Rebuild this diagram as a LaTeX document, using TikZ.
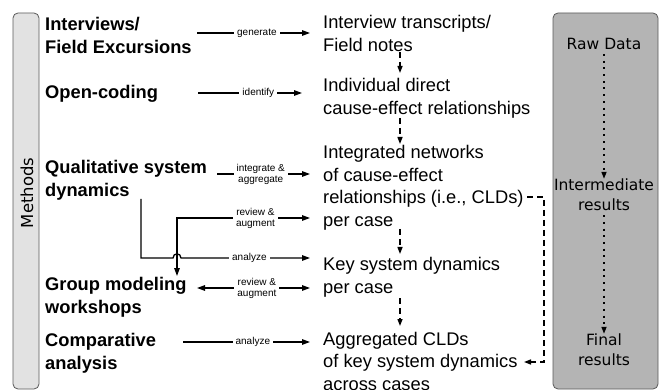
\documentclass[tikz,border=0pt]{standalone}
\usepackage{fontspec}
\setmainfont{Liberation Sans}
\newfontfamily\boxfont{DejaVu Sans}
\usetikzlibrary{arrows.meta,calc}

\definecolor{methodfill}{HTML}{E2E2E2}
\definecolor{stagefill}{HTML}{B4B4B4}
\definecolor{boxline}{HTML}{5A5A5A}

\begin{document}
\begin{tikzpicture}[x=1pt,y=-1pt,
  % multi-line nodes are placed by the baseline of their last line
  method/.style={anchor=base west, align=left, inner sep=0pt,
    font=\fontsize{18.3}{22.7}\selectfont\bfseries},
  result/.style={anchor=base west, align=left, inner sep=0pt,
    font=\fontsize{18.3}{22.7}\selectfont},
  lbl/.style={fill=white, inner xsep=3pt, inner ysep=1pt, align=center,
    font=\fontsize{10}{11}\selectfont},
  tip/.tip={Triangle[length=8pt,width=5.5pt]},
  smalltip/.tip={Triangle[length=7pt,width=5pt]},
  arr/.style={line width=1.3pt, -tip},
  biarr/.style={line width=1.3pt, tip-tip},
  flow/.style={line width=1.3pt, dash pattern=on 6pt off 4pt, -smalltip},
  dots/.style={line width=1.5pt, dash pattern=on 2pt off 4.7pt, -smalltip},
  panel/.style={draw=boxline, line width=0.8pt, rounded corners=5pt},
  stage/.style={align=center, inner sep=0pt,
    font=\boxfont\fontsize{15.5}{20}\selectfont}
]
\useasboundingbox (0,0) rectangle (664,390);

% side panels
\draw[panel, fill=methodfill] (13,13) rectangle (39,389);
\node[rotate=90, font=\boxfont\fontsize{16.5}{20}\selectfont] (meth) at (27,193) {Methods};

\draw[panel, fill=stagefill] (553,13) rectangle (658,389);
\node[stage] (raw) at (604,44) {Raw Data};
\node[stage] (inter) at (604,195) {Intermediate\\results};
\node[stage] (final) at (604,350) {Final\\results};
\draw[dots] (raw.south) ++(0,4) coordinate (d1s) (d1s) -- (inter.north);
\draw[dots] (inter.south) ++(0,4) coordinate (d2s) (d2s) -- (final.north);

% methods
\node[method] (iv)  at (45,53.5)  {Interviews/\\Field Excursions};
\node[method] (oc)  at (45,98.5)  {Open-coding};
\node[method] (qsd) at (45,196.5) {Qualitative system\\dynamics};
\node[method] (gmw) at (45,313.5) {Group modeling\\workshops};
\node[method] (ca)  at (45,369.5) {Comparative\\analysis};

% products
\node[result] (tr)  at (323,51.5)  {Interview transcripts/\\Field notes};
\node[result] (ind) at (323,114.5) {Individual direct\\cause-effect relationships};
\node[result] (net) at (323,226.5) {Integrated networks\\of cause-effect\\relationships (i.e., CLDs)\\per case};
\node[result] (key) at (323,293.5) {Key system dynamics\\per case};
\node[result] (agg) at (323,390.5) {Aggregated CLDs\\of key system dynamics\\across cases};

% arrow end points
\coordinate (a1s) at (197,33);  \coordinate (a1e) at (310,33);
\coordinate (a2s) at (198,93);  \coordinate (a2e) at (302,93);
\coordinate (a3s) at (217,174); \coordinate (a3e) at (310,174);
\coordinate (a4d) at (177,276); \coordinate (a4c) at (177,218); \coordinate (a4e) at (310,218);
\coordinate (a5s) at (141,199); \coordinate (a5c) at (141,258);
\coordinate (h1) at (173,258);  \coordinate (h2) at (181,258);  \coordinate (a5e) at (310,258);
\coordinate (a6s) at (197,288); \coordinate (a6e) at (310,288);
\coordinate (a7s) at (183,342); \coordinate (a7e) at (310,342);

% method -> product arrows
\draw[arr] (a1s) -- node[lbl, pos=0.53] {generate} (a1e);
\draw[arr] (a2s) -- node[lbl, pos=0.58] {identify} (a2e);
\draw[arr] (a3s) -- node[lbl, pos=0.47] {integrate \&\\aggregate} (a3e);
\draw[biarr] (a4d) -- (a4c) -- node[lbl, pos=0.59] {review \&\\augment} (a4e);
\draw[arr] (a5s) -- (a5c) -- (h1) .. controls ($(h1)+(0,-5.5)$) and ($(h2)+(0,-5.5)$) .. (h2)
  -- node[lbl, pos=0.53] {analyze} (a5e);
\draw[biarr] (a6s) -- node[lbl, pos=0.53] {review \&\\augment} (a6e);
\draw[arr] (a7s) -- node[lbl, pos=0.55] {analyze} (a7e);

% product sequence
\coordinate (f1s) at (400,52);  \coordinate (f1e) at (400,73);
\coordinate (f2s) at (400,118); \coordinate (f2e) at (400,144);
\coordinate (f3s) at (400,229); \coordinate (f3e) at (400,254);
\coordinate (f4s) at (400,298); \coordinate (f4e) at (400,326);
\draw[flow] (f1s) -- (f1e);
\draw[flow] (f2s) -- (f2e);
\draw[flow] (f3s) -- (f3e);
\draw[flow] (f4s) -- (f4e);

\coordinate (l1) at (527,197); \coordinate (l2) at (544,197);
\coordinate (l3) at (544,362); \coordinate (l4) at (524,362);
\draw[flow] (l1) -- (l2) -- (l3) -- (l4);
\end{tikzpicture}
\end{document}
